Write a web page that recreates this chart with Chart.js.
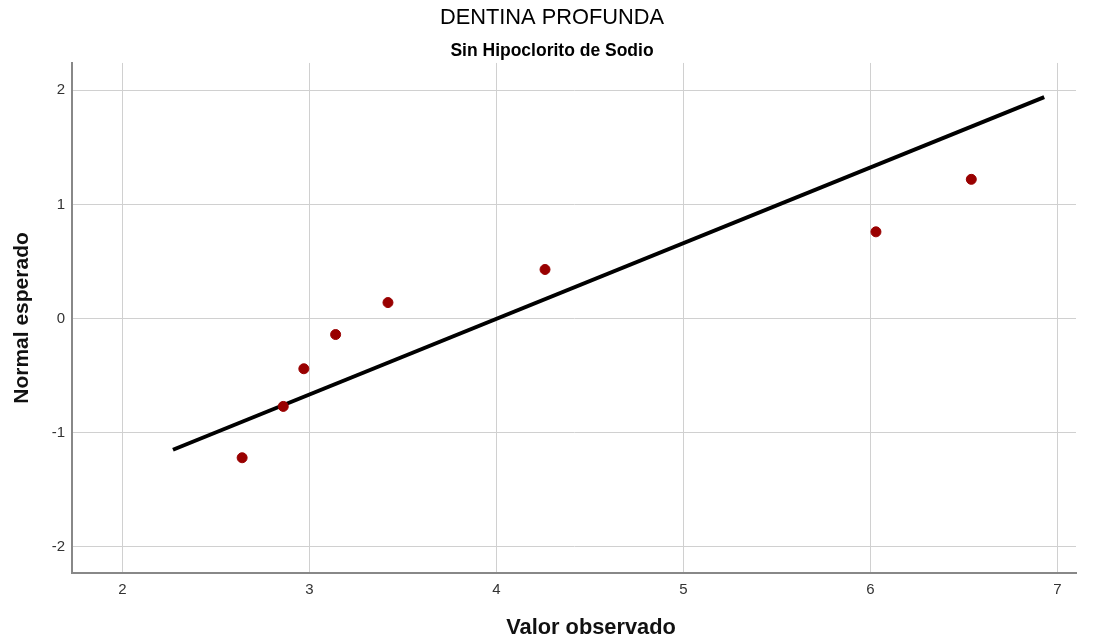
<!DOCTYPE html>
<html>
<head>
<meta charset="utf-8">
<script src="https://cdn.jsdelivr.net/npm/chart.js@4"></script>
<style>
  body { margin: 0; background: #fff; }
  #wrap { width: 1104px; height: 641px; }
</style>
</head>
<body>
<div id="wrap"><canvas id="grafica" width="1104" height="641"></canvas></div>
<script>
const valorObservado = [2.64, 2.86, 2.97, 3.14, 3.42, 4.26, 6.03, 6.54];
const normalEsperado = [-1.22, -0.77, -0.44, -0.14, 0.14, 0.43, 0.76, 1.22];
// linea de referencia (extremos)
const lineaX = [2.27, 6.93];
const lineaY = [-1.15, 1.94];

const FUENTE = "'Liberation Sans', Arial, sans-serif";

const puntos = valorObservado.map((x, i) => ({ x: x, y: normalEsperado[i] }));
const linea = lineaX.map((x, i) => ({ x: x, y: lineaY[i] }));

// el titulo del eje X va un poco a la derecha del centro del area
const tituloEjeX = {
    id: 'tituloEjeX',
    afterDraw(chart) {
        const c = chart.ctx;
        const area = chart.chartArea;
        c.save();
        c.font = 'bold 21.8px ' + FUENTE;
        c.fillStyle = '#111';
        c.textAlign = 'center';
        c.textBaseline = 'middle';
        c.fillText('Valor observado', (area.left + area.right) / 2 + 17, 628);
        c.restore();
    }
};

const ctx = document.getElementById('grafica').getContext('2d');
new Chart(ctx, {
    type: 'scatter',
    data: {
        datasets: [
            {
                type: 'line',
                data: linea,
                borderColor: '#000',
                borderWidth: 4,
                pointRadius: 0,
                fill: false,
                order: 2
            },
            {
                data: puntos,
                backgroundColor: '#990000',
                borderColor: '#990000',
                pointRadius: 5,
                order: 1
            }
        ]
    },
    plugins: [tituloEjeX],
    options: {
        responsive: false,
        animation: false,
        layout: { padding: 0 },
        plugins: {
            legend: { display: false },
            tooltip: { enabled: false },
            title: {
                display: true,
                text: 'DENTINA PROFUNDA',
                color: '#000',
                font: { family: FUENTE, size: 21.8, weight: 'normal', lineHeight: 1.2 },
                padding: { top: 5, bottom: 0 }
            },
            subtitle: {
                display: true,
                text: 'Sin Hipoclorito de Sodio',
                color: '#000',
                font: { family: FUENTE, size: 17.5, weight: 'bold', lineHeight: 1.2 },
                padding: { top: 10, bottom: 0.8 }
            }
        },
        scales: {
            x: {
                type: 'linear',
                min: 1.73,
                max: 7.1,
                afterFit: s => { s.height = 68; },
                ticks: {
                    stepSize: 1,
                    includeBounds: false,
                    padding: 8,
                    color: '#333',
                    font: { family: FUENTE, size: 15 }
                },
                grid: { color: '#d0d0d0', lineWidth: 1, drawTicks: false },
                border: { display: true, color: '#888', width: 2 }
            },
            y: {
                type: 'linear',
                min: -2.23,
                max: 2.24,
                afterFit: s => { s.width = 72; },
                ticks: {
                    stepSize: 1,
                    includeBounds: false,
                    padding: 7,
                    color: '#333',
                    font: { family: FUENTE, size: 15 }
                },
                grid: { color: '#d0d0d0', lineWidth: 1, drawTicks: false },
                border: { display: true, color: '#888', width: 2 },
                title: {
                    display: true,
                    text: 'Normal esperado',
                    color: '#111',
                    font: { family: FUENTE, size: 21, weight: 'bold', lineHeight: 1.2 },
                    padding: { top: 10, bottom: 0 }
                }
            },
            // eje vacio a la derecha, solo reserva el margen
            derecha: {
                type: 'linear',
                position: 'right',
                afterFit: s => { s.width = 28; },
                ticks: { display: false },
                grid: { display: false },
                border: { display: false }
            }
        }
    }
});
</script>
</body>
</html>
